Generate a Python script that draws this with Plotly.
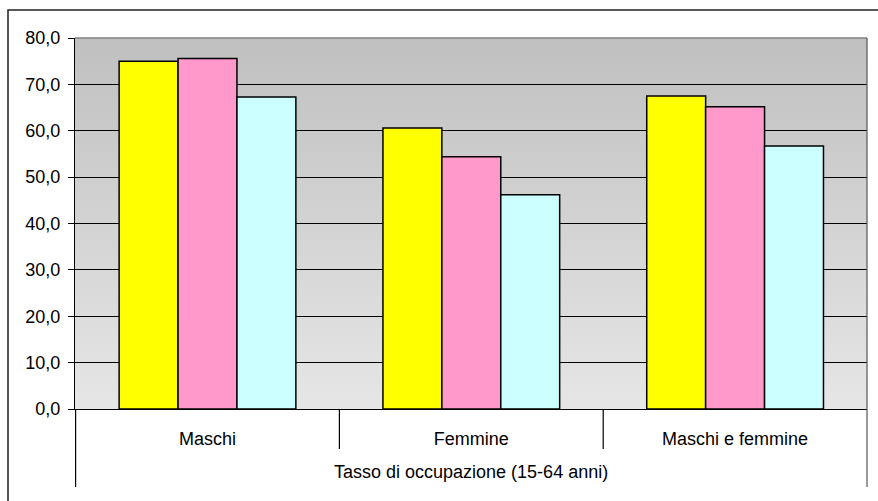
import base64
import plotly.graph_objects as go

categories = ["Maschi", "Femmine", "Maschi e femmine"]
group_label = "Tasso di occupazione (15-64 anni)"
series_names = ["Serie 1", "Serie 2", "Serie 3"]
values_s1 = [75.0, 60.6, 67.5]
values_s2 = [75.6, 54.4, 65.2]
values_s3 = [67.3, 46.2, 56.7]
y_ticks = [0, 10, 20, 30, 40, 50, 60, 70, 80]

colors = ["#FFFF00", "#FF99CC", "#CCFFFF"]
FONT = "Liberation Sans, Arial, sans-serif"
FS = 18

W, H = 878, 501
ML, MR, MT, MB = 75, 11, 38, 92
PW, PH = W - ML - MR, H - MT - MB

def px_to_paper_x(px):
    return (px - ML) / PW

def px_to_paper_y(py):
    return (H - MB - py) / PH

fig = go.Figure()
for name, vals, col in zip(series_names, [values_s1, values_s2, values_s3], colors):
    fig.add_trace(go.Bar(
        name=name, x=categories, y=vals,
        marker=dict(color=col, line=dict(color="#000000", width=1.5)),
        hoverinfo="x+y+name",
    ))

# gradient background for plot area
svg = ('<svg xmlns="http://www.w3.org/2000/svg" width="10" height="100" viewBox="0 0 10 100" '
       'preserveAspectRatio="none"><defs><linearGradient id="g" x1="0" y1="0" x2="0" y2="1">'
       '<stop offset="0" stop-color="#C0C0C0"/><stop offset="1" stop-color="#E6E6E6"/>'
       '</linearGradient></defs><rect x="0" y="0" width="10" height="100" fill="url(#g)"/></svg>')
src = "data:image/svg+xml;base64," + base64.b64encode(svg.encode()).decode()

shapes = []
# plot area top and right border (gray)
shapes.append(dict(type="line", xref="paper", yref="paper", x0=0, x1=1, y0=1, y1=1,
                   line=dict(color="#808080", width=1.5), layer="above"))
shapes.append(dict(type="line", xref="paper", yref="paper", x0=1, x1=1, y0=1,
                   y1=px_to_paper_y(487), line=dict(color="#555555", width=1.2), layer="above"))
# category dividers
n = len(categories)
for i in range(n):
    xb = i - 0.5
    y_end = px_to_paper_y(487 if i == 0 else 449)
    shapes.append(dict(type="line", xref="x", yref="paper", x0=xb, x1=xb, y0=0, y1=y_end,
                       line=dict(color="#000000", width=1.2), layer="above"))
# outer chart border
shapes.append(dict(type="rect", xref="paper", yref="paper",
                   x0=px_to_paper_x(8), x1=px_to_paper_x(W + 20),
                   y0=px_to_paper_y(H + 20), y1=px_to_paper_y(10),
                   line=dict(color="#222222", width=1.5), fillcolor="rgba(0,0,0,0)", layer="above"))

fig.update_layout(
    width=W, height=H,
    margin=dict(l=ML, r=MR, t=MT, b=MB, pad=0),
    paper_bgcolor="#FFFFFF",
    plot_bgcolor="rgba(0,0,0,0)",
    barmode="group", bargap=0.33, bargroupgap=0,
    showlegend=False,
    separators=",.",
    font=dict(family=FONT, size=FS, color="#000000"),
    images=[dict(source=src, xref="paper", yref="paper", x=0, y=1, sizex=1, sizey=1,
                 xanchor="left", yanchor="top", sizing="stretch", layer="below")],
    shapes=shapes,
    annotations=[dict(text=group_label, xref="paper", yref="paper", x=0.5,
                      y=px_to_paper_y(472), xanchor="center", yanchor="middle",
                      showarrow=False, font=dict(family=FONT, size=FS, color="#000000"))],
    xaxis=dict(
        type="category", showgrid=False, zeroline=False,
        showline=True, linecolor="#000000", linewidth=1.2,
        ticks="", ticklabelstandoff=13,
        tickfont=dict(family=FONT, size=FS, color="#000000"),
    ),
    yaxis=dict(
        range=[0, 80], tickvals=y_ticks, tickformat=".1f",
        showgrid=True, gridcolor="#000000", gridwidth=1,
        zeroline=False, showline=True, linecolor="#000000", linewidth=1.2,
        ticks="outside", ticklen=6, tickcolor="#000000", tickwidth=1,
        ticklabelstandoff=4,
        tickfont=dict(family=FONT, size=FS, color="#000000"),
    ),
)

fig.write_html("out.html", config={"displayModeBar": False},
               post_script="document.body.style.margin='0';")
